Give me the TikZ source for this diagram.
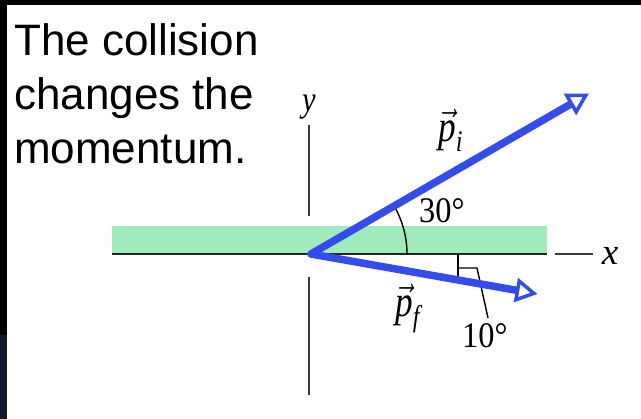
\RequirePackage{fix-cm}
\documentclass[tikz,border=0pt]{standalone}
\usepackage{fontspec}
\usepackage{graphicx}
\usetikzlibrary{arrows.meta}
\newfontfamily\capfont{Liberation Sans}
\newfontfamily\lblfont{Liberation Serif}
\newcommand\vecp[1]{$\vec{\mbox{p}}$\raisebox{-0.22em}{\fontsize{30}{30}\selectfont #1}}
\definecolor{vecblue}{RGB}{52,76,235}
\definecolor{bargreen}{RGB}{160,234,188}
\definecolor{navyband}{RGB}{16,28,46}
\definecolor{axisgray}{RGB}{60,60,60}
\definecolor{axisdark}{RGB}{30,40,32}
\tikzset{
  caption/.style={font=\capfont\fontsize{44}{53}\selectfont, anchor=base west, inner sep=0pt},
  mlabel/.style={anchor=base west, inner sep=0pt},
  axisline/.style={line width=2.5pt, draw=axisgray},
  markline/.style={line width=1.4pt, draw=black},
  vecline/.style={draw=vecblue, line width=7.5pt, line join=round,
    {Triangle[open, fill=white, length=22pt, width=24pt, line width=3.5pt]}-{Triangle[open, fill=white, length=22pt, width=24pt, line width=3.5pt]}}
}
\begin{document}
\begin{tikzpicture}[x=1pt,y=-1pt]
\useasboundingbox (0,0) rectangle (641,419);
% frame bands
\fill[black] (0,0) rectangle (641,5);
\fill[black] (0,0) rectangle (7,335);
\fill[navyband] (0,335) rectangle (7,419);
% caption
\node[caption] (c1) at (14,56) {The collision};
\node[caption] (c2) at (14,110) {changes the};
\node[caption] (c3) at (14,164) {momentum.};
% green bar
\fill[bargreen] (112,226) rectangle (547,254);
% axes
\coordinate (O) at (311,254);
\coordinate (yt) at (309,125);
\coordinate (yb1) at (309,216);
\coordinate (yt2) at (309,277);
\coordinate (yb) at (309,395);
\coordinate (xl) at (112,254);
\coordinate (xr) at (547,254);
\coordinate (dl) at (555,254);
\coordinate (dr) at (593,254);
\draw[axisline] (yt) -- (yb1);
\draw[axisline] (yt2) -- (yb);
\draw[axisline, draw=axisdark] (xl) -- (xr);
\draw[axisline] (dl) -- (dr);
% 30 degree arc
\draw[markline] (O) ++(96,0) arc[start angle=0, end angle=-30, radius=96];
% 10 degree marker
\coordinate (m1) at (458,254);
\coordinate (m2) at (458,280);
\coordinate (m3) at (458,268);
\coordinate (m4) at (477,268);
\coordinate (m5) at (488,318);
\draw[markline] (m1) -- (m2);
\draw[markline] (m3) -- (m4) -- (m5);
% vectors
\coordinate (Pi) at (589,93.5);
\coordinate (Pf) at (537.5,294);
\draw[vecline] (Pi) -- (O) -- (Pf);
% labels
\node[anchor=base, inner sep=0pt] (ylab) at (309,112) {\lblfont\itshape\fontsize{36}{40}\selectfont\scalebox{0.85}[1]{y}};
\node[anchor=base, inner sep=0pt] (xlab) at (610,265) {\lblfont\itshape\fontsize{37}{40}\selectfont x};
\node[mlabel] (a30) at (419,223) {\lblfont\fontsize{36}{40}\selectfont\scalebox{0.9}[1]{30°}};
\node[mlabel] (a10) at (462,348) {\lblfont\fontsize{36}{40}\selectfont\scalebox{0.9}[1]{10°}};
\node[mlabel] (pi) at (438,142) {\lblfont\itshape\fontsize{44}{48}\selectfont\scalebox{0.8}[1]{\vecp{i}}};
\node[mlabel] (pf) at (395,317) {\lblfont\itshape\fontsize{44}{48}\selectfont\scalebox{0.8}[1]{\vecp{f}}};
\end{tikzpicture}
\end{document}
